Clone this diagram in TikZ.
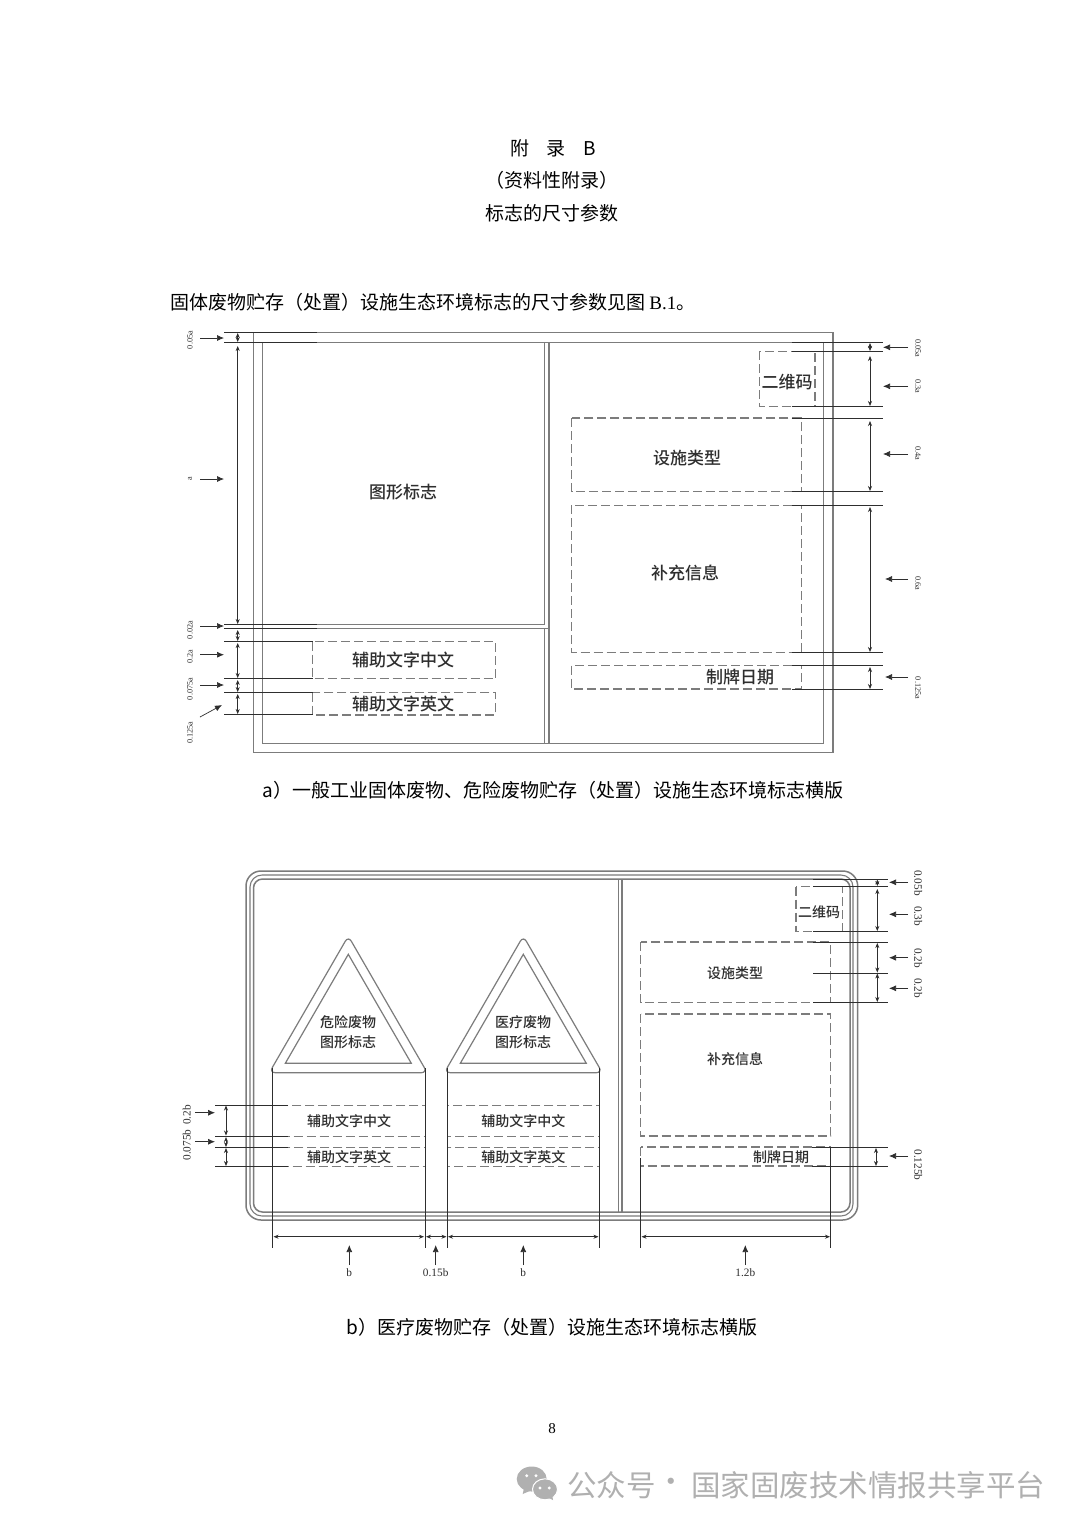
\documentclass[tikz,border=0pt]{standalone}
\usepackage{fontspec}
\usetikzlibrary{arrows.meta}
\newfontfamily\cjk{Noto Sans CJK SC}
\newfontfamily\cjkm{Noto Sans CJK SC Medium}
\newfontfamily\lser{Liberation Serif}
\definecolor{frame}{HTML}{7C7C7C}
\definecolor{ink}{HTML}{2E2E2E}
\definecolor{wm}{HTML}{B0B0B0}
\tikzset{
  frameline/.style={draw=frame,line width=1.5pt},
  dashbox/.style={draw=frame,line width=1.1pt,dash pattern=on 9pt off 4pt},
  extline/.style={draw=ink,line width=.8pt},
  dimline/.style={draw=ink,line width=.7pt,{Stealth[length=5pt,width=4pt]}-{Stealth[length=5pt,width=4pt]}},
  pointer/.style={draw=ink,line width=.7pt,-{Latex[length=7pt,width=6pt]}},
  big/.style={font=\cjkm\fontsize{17}{18}\selectfont,text=ink,inner sep=0pt},
  mid/.style={font=\cjkm\fontsize{14}{16}\selectfont,text=ink,inner sep=0pt},
  head/.style={font=\cjk\fontsize{19}{20}\selectfont,text=black,inner sep=0pt},
  smalla/.style={font=\lser\fontsize{8.2}{9}\selectfont,text=ink,inner sep=0pt},
  smallb/.style={font=\lser\fontsize{11.3}{12}\selectfont,text=ink,inner sep=0pt},
  wmtext/.style={font=\cjk\fontsize{29.5}{30}\selectfont,text=wm,inner sep=0pt,anchor=west},
}
\begin{document}
\begin{tikzpicture}[x=1pt,y=-1pt]
\useasboundingbox (0,0) rectangle (1080,1527);
\fill[white] (0,0) rectangle (1080,1527);

% page text
\node[head] (t1) at (553,148) {附\hspace{17.5pt}录\hspace{17.5pt}B};
\node[head] (t2) at (552,180) {（资料性附录）};
\node[head] (t3) at (552,213) {标志的尺寸参数};
\node[head,anchor=west] (t4) at (170,302) {固体废物贮存（处置）设施生态环境标志的尺寸参数见图 {\lser B.1}。};
\node[head] (capa) at (553,790) {a）一般工业固体废物、危险废物贮存（处置）设施生态环境标志横版};
\node[head] (capb) at (552,1327) {b）医疗废物贮存（处置）设施生态环境标志横版};
\node[font=\lser\fontsize{15}{16}\selectfont,inner sep=0pt] (pg) at (552,1429) {8};

% ---------- figure a
\draw[frameline] (253.5,332.7) rectangle (833,752.7);
\draw[frameline] (262.7,342.3) rectangle (823.7,743.7);
\draw[frameline] (262.7,624.3) -- (544.7,624.3) -- (544.7,342.3);
\draw[frameline] (549,342.3) -- (549,743.7);
\draw[frameline] (262.7,628.3) -- (544.7,628.3) -- (544.7,743.7);
\draw[frameline] (544.7,628.3) -- (549,628.3);
\draw[dashbox] (312.7,641.7) rectangle (495.7,678.7);
\draw[dashbox] (312.7,692.7) rectangle (495.7,715);
\draw[dashbox] (759.3,351.3) rectangle (815,406.7);
\draw[dashbox] (571.7,418) rectangle (801.3,491.7);
\draw[dashbox] (571.7,505.3) rectangle (801.3,652.3);
\draw[dashbox] (571.7,665.7) rectangle (801.3,689);
\node[big] (a1) at (403,492) {图形标志};
\node[big] (a2) at (403,660) {辅助文字中文};
\node[big] (a3) at (403,704) {辅助文字英文};
\node[big] (a4) at (787,382) {二维码};
\node[big] (a5) at (687,458) {设施类型};
\node[big] (a6) at (685,573) {补充信息};
\node[big] (a7) at (740,677) {制牌日期};

\foreach \i/\xa/\ya/\xb in {1/224/332.7/316.7,2/224/342.3/316.7,3/224/624.3/316.7,4/224/628.3/316.7,5/224/641.7/313,6/224/678.7/313,7/224/692.7/313,8/224/714.7/313,
  9/791.7/342.3/883.3,10/791.7/351.3/883.3,11/791.7/406.7/883.3,12/791.7/418/883.3,13/791.7/491.7/883.3,14/791.7/505.3/883.3,15/791.7/652.3/883.3,16/791.7/665.7/883.3,17/791.7/689/883.3}{
  \coordinate (ea\i s) at (\xa,\ya);
  \coordinate (ea\i e) at (\xb,\ya);
  \draw[extline] (ea\i s) -- (ea\i e);
}
\foreach \i/\x/\ya/\yb in {1/237.7/333/342,2/237.7/346/624,3/237.7/630/641,4/237.7/643/678,5/237.7/680/692,6/237.7/694/714,
  7/870/343/351,8/870/356/406,9/870/421/491,10/870/507/652,11/870/667/689}{
  \coordinate (da\i s) at (\x,\ya);
  \coordinate (da\i e) at (\x,\yb);
  \draw[dimline] (da\i s) -- (da\i e);
}
\foreach \i/\xa/\ya/\xb/\yb in {1/200/338/224/338,2/200/479/224/479,3/200/626/224/626,4/200/654.7/224/654.7,5/200/685/224/685,6/200/717/222/705,
  7/908/347.3/883/347.3,8/908/386.3/883/386.3,9/908/454/883/454,10/908/579/885/579,11/908/677/885/677}{
  \coordinate (pa\i s) at (\xa,\ya);
  \coordinate (pa\i e) at (\xb,\yb);
  \draw[pointer] (pa\i s) -- (pa\i e);
}
\foreach \i/\x/\y/\r/\t in {1/190/340/90/0.05a,2/190/479/90/a,3/190/630/90/0.02a,4/190/656.7/90/0.2a,5/190/689/90/0.075a,6/190/732.7/90/0.125a,
  7/918/348/-90/0.05a,8/918/386/-90/0.3a,9/918/453.3/-90/0.4a,10/918/583/-90/0.6a,11/918/688/-90/0.125a}{
  \node[smalla,rotate=\r] (la\i) at (\x,\y) {\t};
}

% ---------- figure b
\draw[frameline,rounded corners=15pt] (246,871) rectangle (857.7,1220);
\draw[frameline,line width=1.1pt,rounded corners=12pt] (250,875) rectangle (853,1216);
\draw[frameline,rounded corners=9pt] (253.5,879) rectangle (850,1212);
\draw[frameline] (618.3,879) -- (618.3,1212);
\draw[frameline] (622,879) -- (622,1212);

% triangles
\foreach \c/\n in {348.3/L,523.3/R}{
  \draw[frameline,line width=1.2pt,rounded corners=6pt] (\c-79,1072.7) -- (\c,936) -- (\c+79,1072.7) -- cycle;
  \draw[frameline,line width=1.2pt] (\c-63,1063.3) -- (\c,954.3) -- (\c+63,1063.3) -- cycle;
}
\node[mid,align=center,font=\cjkm\fontsize{14}{20}\selectfont] (b1) at (348,1032) {危险废物\\图形标志};
\node[mid,align=center,font=\cjkm\fontsize{14}{20}\selectfont] (b2) at (523,1032) {医疗废物\\图形标志};

% dashed bands
\foreach \xa/\xb in {272.7/425,447.3/599.3}{
  \foreach \ya/\yb in {1105/1136,1147.3/1166.3}{
    \draw[dashbox,line width=1pt] (\xa,\ya) rectangle (\xb,\yb);
  }
}
\node[mid] (b3) at (349,1121) {辅助文字中文};
\node[mid] (b4) at (349,1157) {辅助文字英文};
\node[mid] (b5) at (523.3,1121) {辅助文字中文};
\node[mid] (b6) at (523.3,1157) {辅助文字英文};

\draw[dashbox] (796,886.7) rectangle (842.3,931.7);
\draw[dashbox] (640.7,942) rectangle (830.7,1002.3);
\draw[dashbox] (640.7,1014) rectangle (830.7,1136);
\draw[dashbox] (640.7,1147) rectangle (830.7,1166);
\node[mid] (b7) at (819,912) {二维码};
\node[mid] (b8) at (735,973) {设施类型};
\node[mid] (b9) at (735,1059) {补充信息};
\node[mid] (b10) at (781,1157) {制牌日期};

% extension lines b
\foreach \i/\xa/\xb/\y in {1/215/288/1105,2/215/288/1136,3/215/288/1147.3,4/215/288/1166.3,
  5/813.3/888.3/879,6/813.3/888.3/886.7,7/813.3/888.3/931.7,8/813.3/888.3/942,9/813.3/888.3/973,10/813.3/888.3/1002.3,11/812/888.3/1147,12/812/888.3/1166}{
  \coordinate (eb\i s) at (\xa,\y);
  \coordinate (eb\i e) at (\xb,\y);
  \draw[extline] (eb\i s) -- (eb\i e);
}
\foreach \i/\x/\ya in {13/272.7/1068,14/425/1068,15/447.3/1068,16/599.3/1068,17/640.7/1158,18/830.7/1148}{
  \coordinate (eb\i s) at (\x,\ya);
  \coordinate (eb\i e) at (\x,1248);
  \draw[extline] (eb\i s) -- (eb\i e);
}
% vertical dims b
\foreach \i/\x/\ya/\yb in {1/226/1105.5/1135.5,2/226/1137/1147,3/226/1148/1166,
  4/877.3/879.5/886,5/877.3/889/931,6/877.3/943/972.5,7/877.3/973.5/1002,8/876/1148/1166}{
  \coordinate (db\i s) at (\x,\ya);
  \coordinate (db\i e) at (\x,\yb);
  \draw[dimline] (db\i s) -- (db\i e);
}
% horizontal dims b
\foreach \i/\xa/\xb in {9/273.5/424,10/426/446.5,11/448/598.5,12/641.5/830}{
  \coordinate (db\i s) at (\xa,1236.7);
  \coordinate (db\i e) at (\xb,1236.7);
  \draw[dimline] (db\i s) -- (db\i e);
}
% pointers b
\foreach \i/\xa/\ya/\xb/\yb in {1/195/1112.7/215/1112.7,2/195/1141.7/215/1141.7,
  3/908/882.3/889/882.3,4/908/914.3/889/914.3,5/908/957.7/889/957.7,6/908/988.3/889/988.3,7/908/1156/889/1156,
  8/349.3/1265/349.3/1245,9/435.7/1265/435.7/1245,10/523.3/1265/523.3/1245,11/745.3/1265/745.3/1245}{
  \coordinate (pb\i s) at (\xa,\ya);
  \coordinate (pb\i e) at (\xb,\yb);
  \draw[pointer] (pb\i s) -- (pb\i e);
}
\foreach \i/\x/\y/\r/\t in {1/186.7/1115/90/0.2b,2/186.7/1145/90/0.075b,
  3/918.3/883/-90/0.05b,4/918.3/916/-90/0.3b,5/918.3/958/-90/0.2b,6/918.3/988/-90/0.2b,7/918.3/1165/-90/0.125b,
  8/349.3/1273/0/b,9/435.7/1273/0/0.15b,10/523.3/1273/0/b,11/745.3/1273/0/1.2b}{
  \node[smallb,rotate=\r] (lb\i) at (\x,\y) {\t};
}

% watermark
\fill[wm] (531.7,1479) ellipse (15pt and 12.5pt);
\fill[wm] (524,1488) -- (522.7,1494) -- (532,1490) -- cycle;
\fill[wm,draw=white,line width=1pt] (545,1489.3) ellipse (12.5pt and 10.5pt);
\fill[wm] (547,1497) -- (553,1500) -- (552,1494) -- cycle;
\foreach \x/\y in {526.7/1475.7,536/1475.7,540/1488,549.3/1488}{\fill[white] (\x,\y) circle (1.6pt);}
\node[wmtext] (wmk1) at (567,1485) {公众号};
\node[wmtext,anchor=center] (wmk2) at (671,1485) {·};
\node[wmtext] (wmk3) at (691,1485) {国家固废技术情报共享平台};
\end{tikzpicture}
\end{document}
